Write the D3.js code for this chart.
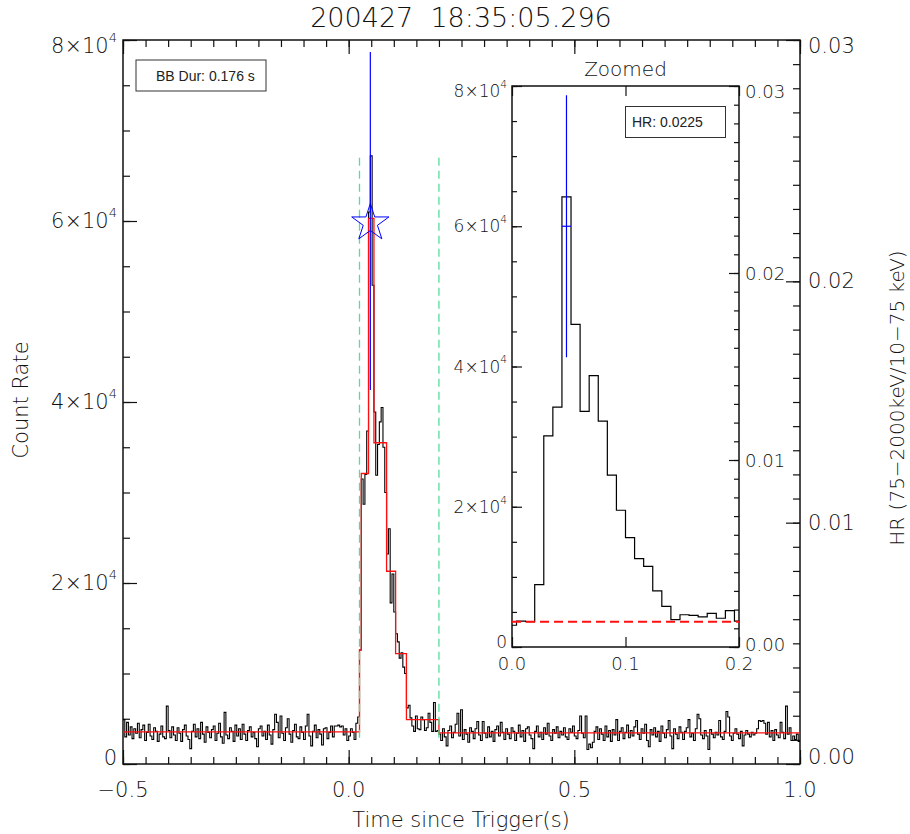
<!DOCTYPE html>
<html><head><meta charset="utf-8">
<script src="https://cdn.jsdelivr.net/npm/d3@7/dist/d3.min.js"></script>
<style>
body{margin:0;background:#fff}
text{font-family:"DejaVu Sans",sans-serif;font-weight:200;fill:#111}
.box text{font-family:"Liberation Sans",Arial,sans-serif;font-weight:400;fill:#222}
</style></head><body>
<svg id="c" width="910" height="834"></svg>
<script>
// ---------------- data ----------------
const titleText = "200427  18:35:05.296";
const xLabelText = "Time since Trigger(s)";
const yLabelText = "Count Rate";
const y2LabelText = "HR (75\u22122000keV/10\u221275 keV)";
const bbDurText = "BB Dur: 0.176 s";
const hrText = "HR: 0.0225";
const zoomTitle = "Zoomed";

// light curve, 4 ms bins from -0.5 s, rates in units of 1e3 counts/s
const binStart = -0.5, binWidth = 0.004;
const rates = [
 4.9,3.0,4.6,3.2,4.1,2.8,3.9,3.4,4.5,2.9,
 3.8,4.3,2.6,3.5,4.4,3.1,2.7,4.0,3.6,2.5,
 3.3,4.2,3.0,2.8,6.4,3.7,2.9,4.1,3.2,2.6,
 4.0,3.4,2.5,3.8,4.3,3.1,2.7,1.7,3.6,4.4,
 3.0,3.9,2.8,4.6,3.3,2.4,4.1,3.5,2.9,3.8,
 4.2,2.6,3.4,4.5,3.0,2.3,5.7,3.2,2.8,4.0,
 3.6,2.5,4.3,3.1,3.9,2.7,4.4,3.3,2.6,3.7,
 4.1,3.0,3.5,2.8,1.9,3.9,4.2,3.1,3.6,2.7,
 4.3,3.2,2.2,3.8,5.5,4.6,2.9,5.3,3.4,2.6,
 4.0,5.0,3.3,2.4,3.7,4.4,3.0,2.8,4.1,3.5,
 2.7,4.2,5.5,3.1,2.0,3.6,4.3,2.9,3.8,3.3,
 2.1,3.9,4.0,2.8,3.5,4.2,3.0,4.2,4.2,4.3,
 4.1,4.2,3.2,3.9,2.6,
 3.1,3.9,3.5,2.7,4.5,5.2,12.6,31.5,28.7,32.0,
 36.8,61.0,67.2,52.9,38.9,31.9,35.3,37.8,39.4,35.0,
 30.0,23.2,26.0,17.8,21.0,16.8,14.4,13.5,11.7,12.3,
 10.7,10.0,6.2,6.5,5.1,4.2,3.6,5.3,3.9,3.8,
 5.2,4.9,3.7,4.0,5.6,4.6,3.6,6.8,3.6,3.7,
 3.3,2.6,3.9,3.0,2.0,3.7,4.2,2.9,3.5,4.4,
 5.6,3.1,6.0,2.7,3.8,3.3,2.4,4.0,3.6,2.8,
 3.9,4.7,3.2,2.6,4.7,3.4,2.9,4.1,3.0,3.6,
 2.5,3.8,4.2,3.1,4.6,3.5,2.7,3.9,3.3,2.8,
 4.0,3.6,2.6,3.4,4.3,3.0,3.7,2.5,3.9,4.1,
 3.2,2.8,1.7,3.6,4.2,3.0,3.5,2.7,4.0,3.3,
 4.5,3.1,2.6,3.8,3.4,4.1,2.9,3.6,3.2,4.0,
 3.0,2.7,3.9,3.5,4.2,3.1,2.8,3.7,5.3,3.4,
 2.9,5.3,1.6,2.2,1.8,2.4,3.6,4.1,2.7,3.9,
 3.3,2.6,4.2,3.0,3.7,2.5,3.8,3.2,4.9,2.6,
 3.6,4.0,2.8,3.5,4.3,2.9,3.7,3.1,4.1,4.8,
 3.3,2.7,3.9,3.4,4.4,2.6,1.9,3.8,3.2,4.0,
 3.0,3.6,2.5,4.2,3.4,2.9,3.8,4.8,3.1,1.7,
 3.9,3.3,2.8,4.1,3.5,2.7,3.6,4.0,4.9,3.0,
 3.4,2.6,3.9,5.5,5.0,3.2,2.8,3.7,3.1,1.6,
 3.8,3.3,2.9,3.5,3.2,4.8,3.0,2.7,3.6,5.8,
 5.2,3.1,2.6,3.4,3.9,3.3,2.8,3.6,2.0,3.2,
 3.7,3.3,3.0,3.5,3.2,3.4,3.9,4.8,4.7,4.8,
 4.5,3.3,4.6,3.0,3.7,2.6,3.8,3.2,2.9,4.6,
 3.5,2.8,6.4,3.3,4.0,2.6,3.1,2.7,3.3,2.5
];

// Bayesian blocks (1e3 counts/s)
const bbEdges  = [-0.5, 0.024, 0.028, 0.044, 0.056, 0.084, 0.104, 0.128, 0.200, 1.0];
const bbLevels = [3.55, 12.6, 32.1, 60.3, 35.5, 21.3, 12.2, 4.9, 3.45];

// burst duration interval markers
const durLines = [0.024, 0.200];
const durRange = [2.8, 67.0];

// hardness ratio
const hrTime = 0.048, hrValue = 0.0225, hrLow = 0.0155, hrHigh = 0.0295;
const hrBin = [0.044, 0.052];

// zoomed light curve (8 ms bins), 1e3 counts/s
const zoomEdges = [0, 0.004, 0.012, 0.020, 0.028, 0.036, 0.044, 0.052, 0.060, 0.068,
  0.076, 0.084, 0.092, 0.100, 0.108, 0.116, 0.124, 0.132, 0.140, 0.148, 0.156,
  0.164, 0.172, 0.180, 0.188, 0.196, 0.200];
const zoomRates = [3.1, 3.7, 3.6, 8.9, 30.1, 34.2, 64.2, 46.0, 33.6, 38.7, 32.2,
  24.5, 19.5, 15.6, 12.6, 11.5, 8.0, 5.8, 3.9, 4.6, 4.5, 4.3, 4.8, 4.1, 5.2, 3.7];
const zoomBackground = 3.6;

// ticks
const xMajor = [-0.5, 0.0, 0.5, 1.0];
const yMajor = [0, 20, 40, 60, 80];
const hrMajor = [0, 0.01, 0.02, 0.03];
const zxMajor = [0.0, 0.1, 0.2];

// ---------------- drawing ----------------
const svg = d3.select("#c");
const M = {l:123, r:800, t:40, b:764};
const x = d3.scaleLinear().domain([-0.5, 1.0]).range([M.l, M.r]);
const y = d3.scaleLinear().domain([0, 80]).range([M.b, M.t]);
const y2 = d3.scaleLinear().domain([0, 0.03]).range([M.b, M.t]);

const I = {l:512, r:739, t:86, b:647};
const zx = d3.scaleLinear().domain([0, 0.2]).range([I.l, I.r]);
const zy = d3.scaleLinear().domain([0, 80]).range([I.b, I.t]);
const zy2 = d3.scaleLinear().domain([0, 0.03]).range([I.b, I.t]);

const stepLine = (xs, ys) => d3.line().x(d => xs(d[0])).y(d => ys(d[1])).curve(d3.curveStepAfter);
function stepPoints(edges, vals){
  const p = vals.map((v,i)=>[edges[i], v]);
  p.push([edges[edges.length-1], vals[vals.length-1]]);
  return p;
}
const range = (a,b,s) => d3.range(Math.round((b-a)/s)+1).map(i => +(a+i*s).toFixed(6));

function ticks(g, axisFn, scale, vals, size, tr){
  const a = axisFn(scale).tickValues(vals).tickSize(size).tickFormat("");
  const gg = g.append("g").attr("transform", tr).call(a);
  gg.select(".domain").remove();
  gg.selectAll("line").attr("stroke","#111").attr("stroke-width",1.2);
}

// v in units of 1e3
function sci(g, xpos, ypos, v, fs, anchor){
  const t = g.append("text").attr("x", xpos).attr("y", ypos)
    .attr("text-anchor", anchor).style("font-size", fs+"px").attr("dominant-baseline","central");
  if (v === 0) { t.text("0"); return; }
  t.append("tspan").text((v/10)+"\u00d710");
  t.append("tspan").text("4").attr("dy", -fs*0.42).style("font-size", (fs*0.62)+"px");
}

// ---- main axes ticks ----
const gm = svg.append("g");
ticks(gm, d3.axisBottom, x, range(-0.5,1.0,0.05), -7, `translate(0,${M.b})`);
ticks(gm, d3.axisBottom, x, xMajor, -14, `translate(0,${M.b})`);
ticks(gm, d3.axisTop, x, range(-0.5,1.0,0.05), -7, `translate(0,${M.t})`);
ticks(gm, d3.axisTop, x, xMajor, -14, `translate(0,${M.t})`);
ticks(gm, d3.axisLeft, y, range(0,80,5), -7, `translate(${M.l},0)`);
ticks(gm, d3.axisLeft, y, yMajor, -14, `translate(${M.l},0)`);
ticks(gm, d3.axisRight, y2, range(0,0.03,0.001), -7, `translate(${M.r},0)`);
ticks(gm, d3.axisRight, y2, hrMajor, -14, `translate(${M.r},0)`);
gm.append("rect").attr("x",M.l).attr("y",M.t).attr("width",M.r-M.l).attr("height",M.b-M.t)
  .attr("fill","none").attr("stroke","#111").attr("stroke-width",1.5);

// main labels
xMajor.forEach(v => gm.append("text").attr("x", x(v)).attr("y", 797)
  .attr("text-anchor","middle").style("font-size","21px").text(d3.format(".1f")(v).replace("-","\u2212")));
yMajor.forEach(v => sci(gm, 117, Math.min(Math.max(y(v), M.t+6), M.b-6), v, 21, "end"));
hrMajor.forEach(v => gm.append("text").attr("x", 808).attr("y", Math.min(Math.max(y2(v), M.t+6), M.b-7))
  .attr("dominant-baseline","central").style("font-size","21px").text(d3.format(".2f")(v)));

svg.append("text").attr("x", 461).attr("y", 27).attr("text-anchor","middle")
  .style("font-size","27px").style("white-space","pre").attr("xml:space","preserve").text(titleText);
svg.append("text").attr("x", 461).attr("y", 827).attr("text-anchor","middle")
  .style("font-size","21px").text(xLabelText);
svg.append("text").attr("transform","translate(28,400) rotate(-90)").attr("text-anchor","middle")
  .style("font-size","21px").text(yLabelText);
svg.append("text").attr("transform","translate(904,398) rotate(-90)").attr("text-anchor","middle")
  .style("font-size","20px").text(y2LabelText);

// ---- main data ----
const plot = svg.append("g");
const edges = d3.range(rates.length+1).map(i => +(binStart + i*binWidth).toFixed(6));
plot.append("path").attr("d", stepLine(x,y)(stepPoints(edges, rates)))
  .attr("fill","none").attr("stroke","#000").attr("stroke-width",1.1);
plot.append("path").attr("d", stepLine(x,y)(stepPoints(bbEdges, bbLevels)))
  .attr("fill","none").attr("stroke","#ff1010").attr("stroke-width",1.3);
durLines.forEach(t => plot.append("line").attr("x1",x(t)).attr("x2",x(t))
  .attr("y1",y(durRange[1])).attr("y2",y(durRange[0]))
  .attr("stroke","#55dd99").attr("stroke-width",1.3).attr("stroke-dasharray","8,5"));
plot.append("line").attr("x1",x(hrTime)).attr("x2",x(hrTime)).attr("y1",y2(hrHigh)).attr("y2",y2(hrLow))
  .attr("stroke","#0000ff").attr("stroke-width",1.2);
const star = d3.symbol().type(d3.symbolStar).size(430);
plot.append("path").attr("d", star()).attr("transform",`translate(${x(hrTime)},${y2(hrValue)+2})`)
  .attr("fill","none").attr("stroke","#0000ff").attr("stroke-width",1);

// BB duration box
const bb = svg.append("g").attr("class","box");
bb.append("rect").attr("x",136).attr("y",60).attr("width",130).attr("height",31)
  .attr("fill","#fff").attr("stroke","#333").attr("stroke-width",1);
bb.append("text").attr("x",156).attr("y",81).style("font-size","14px").text(bbDurText);

// ---- inset ----
const gi = svg.append("g");
gi.append("rect").attr("x",I.l).attr("y",I.t).attr("width",I.r-I.l).attr("height",I.b-I.t)
  .attr("fill","#fff");
ticks(gi, d3.axisBottom, zx, zxMajor, -10, `translate(0,${I.b})`);
ticks(gi, d3.axisTop, zx, zxMajor, -10, `translate(0,${I.t})`);
ticks(gi, d3.axisLeft, zy, range(0,80,5), -5, `translate(${I.l},0)`);
ticks(gi, d3.axisLeft, zy, yMajor, -10, `translate(${I.l},0)`);
ticks(gi, d3.axisRight, zy2, range(0,0.03,0.001), -5, `translate(${I.r},0)`);
ticks(gi, d3.axisRight, zy2, hrMajor, -10, `translate(${I.r},0)`);
gi.append("rect").attr("x",I.l).attr("y",I.t).attr("width",I.r-I.l).attr("height",I.b-I.t)
  .attr("fill","none").attr("stroke","#111").attr("stroke-width",1.5);
zxMajor.forEach(v => gi.append("text").attr("x", zx(v)).attr("y", 670)
  .attr("text-anchor","middle").style("font-size","18px").text(d3.format(".1f")(v)));
yMajor.forEach(v => sci(gi, 507, Math.min(Math.max(zy(v), I.t+5), I.b-5), v, 17, "end"));
hrMajor.forEach(v => gi.append("text").attr("x", 745).attr("y", Math.min(Math.max(zy2(v), I.t+5), I.b-3))
  .attr("dominant-baseline","central").style("font-size","18px").text(d3.format(".2f")(v)));
gi.append("text").attr("x", 625.5).attr("y", 76).attr("text-anchor","middle")
  .style("font-size","20px").text(zoomTitle);

gi.append("path").attr("d", stepLine(zx,zy)(stepPoints(zoomEdges, zoomRates)))
  .attr("fill","none").attr("stroke","#000").attr("stroke-width",1.2);
gi.append("line").attr("x1",zx(0)).attr("x2",zx(0.2)).attr("y1",zy(zoomBackground)).attr("y2",zy(zoomBackground))
  .attr("stroke","#ff1010").attr("stroke-width",2).attr("stroke-dasharray","9,5");
gi.append("line").attr("x1",zx(hrTime)).attr("x2",zx(hrTime)).attr("y1",zy2(hrHigh)).attr("y2",zy2(hrLow))
  .attr("stroke","#0000ff").attr("stroke-width",1.2);
gi.append("line").attr("x1",zx(hrBin[0])).attr("x2",zx(hrBin[1])).attr("y1",zy2(hrValue)).attr("y2",zy2(hrValue))
  .attr("stroke","#0000ff").attr("stroke-width",1.2);

const hb = gi.append("g").attr("class","box");
hb.append("rect").attr("x",625.5).attr("y",106.5).attr("width",100).attr("height",31)
  .attr("fill","#fff").attr("stroke","#333").attr("stroke-width",1);
hb.append("text").attr("x",632).attr("y",127).style("font-size","14px").text(hrText);
</script>
</body></html>
